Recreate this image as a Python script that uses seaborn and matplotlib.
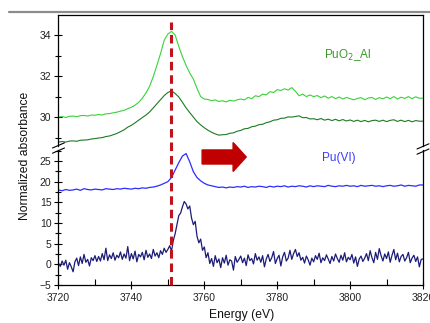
import numpy as np
import pandas as pd
import matplotlib
matplotlib.use("Agg")
import matplotlib.pyplot as plt
from matplotlib.lines import Line2D
from matplotlib.patches import FancyArrow
from matplotlib.ticker import MultipleLocator
import seaborn as sns

# Pu L3-edge XANES: energy grids (eV)
energy_1ev = np.arange(3720, 3821, 1.0)
energy_half = np.arange(3720, 3820.5, 0.5)

# PuO2_Al sample (light green) and reference (dark green), upper panel
puo2_al = [
    30.00, 30.03, 29.98, 30.04, 30.05, 30.02, 30.07, 30.08, 30.05, 30.10,
    30.09, 30.13, 30.10, 30.16, 30.17, 30.21, 30.24, 30.29, 30.33, 30.41,
    30.48, 30.58, 30.72, 30.92, 31.18, 31.50, 31.98, 32.52, 33.10, 33.75,
    34.05, 34.18, 34.00, 33.45, 32.95, 32.52, 32.15, 31.85, 31.40, 31.00,
    30.88, 30.86, 30.80, 30.84, 30.76, 30.80, 30.74, 30.82, 30.78, 30.84,
    30.88, 30.84, 30.96, 30.90, 31.04, 31.00, 31.12, 31.08, 31.24, 31.20,
    31.34, 31.30, 31.38, 31.32, 31.44, 31.26, 31.04, 31.12, 31.00, 31.08,
    31.00, 31.05, 30.95, 31.03, 30.92, 31.00, 30.90, 30.98, 30.88, 30.96,
    30.90, 30.84, 30.91, 30.95, 30.85, 30.93, 30.96, 30.86, 30.95, 30.89,
    30.98, 30.90, 31.00, 30.88, 30.97, 30.91, 31.00, 30.90, 30.99, 30.92,
    30.92,
]
puo2_ref = [
    28.78, 28.81, 28.78, 28.83, 28.84, 28.82, 28.87, 28.88, 28.89, 28.93,
    28.95, 28.98, 29.00, 29.05, 29.08, 29.14, 29.20, 29.29, 29.38, 29.51,
    29.60, 29.72, 29.85, 29.98, 30.10, 30.25, 30.45, 30.65, 30.85, 31.05,
    31.20, 31.28, 31.15, 30.98, 30.72, 30.45, 30.22, 30.00, 29.78, 29.62,
    29.48, 29.36, 29.26, 29.18, 29.12, 29.14, 29.15, 29.21, 29.23, 29.31,
    29.35, 29.43, 29.45, 29.53, 29.56, 29.63, 29.65, 29.73, 29.77, 29.85,
    29.87, 29.94, 29.95, 30.01, 30.00, 30.03, 30.06, 29.97, 29.98, 29.91,
    29.92, 29.87, 29.93, 29.85, 29.90, 29.83, 29.89, 29.82, 29.88, 29.81,
    29.86, 29.79, 29.85, 29.78, 29.84, 29.77, 29.83, 29.85, 29.79, 29.85,
    29.78, 29.84, 29.87, 29.79, 29.85, 29.78, 29.84, 29.77, 29.83, 29.80,
    29.80,
]

# Pu(VI) reference (blue), lower panel
pu_vi = [
    18.0, 17.8, 18.1, 17.9, 18.0, 18.2, 17.9, 18.3, 18.1, 18.0,
    18.2, 18.1, 18.0, 18.3, 18.2, 18.1, 18.3, 18.2, 18.4, 18.3,
    18.2, 18.4, 18.3, 18.5, 18.4, 18.6, 18.7, 18.9, 19.2, 19.6,
    20.0, 21.0, 22.8, 24.6, 26.2, 26.8, 24.8, 22.4, 21.0, 20.2,
    19.6, 19.2, 19.0, 18.8, 18.6, 18.7, 18.5, 18.7, 18.6, 18.8,
    18.7, 18.9, 18.6, 18.8, 18.7, 18.9, 18.8, 18.6, 18.9, 18.7,
    18.9, 18.8, 19.0, 18.7, 18.9, 18.8, 19.0, 18.9, 18.7, 19.0,
    18.8, 19.0, 18.9, 18.8, 19.1, 18.9, 18.8, 19.0, 18.9, 19.1,
    18.9, 19.0, 18.8, 19.1, 18.9, 19.0, 19.1, 18.9, 19.0, 18.8,
    19.0, 19.1, 18.9, 19.0, 19.2, 18.9, 19.1, 19.0, 18.9, 19.2,
    19.2,
]

# Difference spectrum (navy), 0.5 eV steps, lower panel
difference = [
    0.3, -0.5, 0.8, -0.2, 1.0, -1.2, 0.4, -0.6, -1.8, 0.6,
    1.5, -0.3, 1.8, 0.2, 2.4, 0.5, 1.2, -0.4, 1.6, 0.9,
    2.1, 0.7, 1.9, 0.8, 2.6, 1.1, 3.9, 0.9, 2.3, 1.4,
    2.8, 1.0, 2.2, 1.6, 3.0, 1.2, 2.5, 1.5, 4.3, 0.9,
    2.6, 1.3, 3.2, 0.6, 2.4, 1.8, 2.9, 1.1, 3.4, 1.7,
    2.5, 1.4, 3.6, 2.0, 2.8, 1.6, 3.3, 2.4, 3.9, 2.9,
    3.6, 4.5, 3.2, 5.8, 7.4, 9.6, 11.8, 12.4, 13.9, 15.2,
    14.6, 13.4, 14.1, 11.2, 9.6, 10.4, 6.8, 5.2, 6.1, 3.4,
    4.2, 1.6, 2.8, 0.2, 1.4, -0.5, 2.1, 0.4, 1.3, -0.8,
    1.6, 0.3, 2.2, -0.2, 1.1, 0.8, -1.4, 1.9, 0.5, 1.2,
    2.0, 0.4, 1.5, -0.3, 2.3, 0.9, 1.4, 0.1, 2.6, 1.0,
    1.8, 0.5, 2.1, -0.6, 1.3, 2.4, 0.7, 1.6, 3.1, 0.2,
    1.4, 2.2, -0.4, 1.8, 2.9, 0.8, 1.5, 3.4, 1.2, 2.6,
    3.6, 1.9, 2.8, 1.0, 1.7, 0.3, 2.0, 1.1, -0.2, 1.5,
    0.6, 2.1, 1.2, 2.7, 0.4, 1.6, 0.9, 2.3, 1.3, 0.2,
    1.9, 0.8, 2.5, 1.4, 0.5, 2.2, 1.0, 2.8, 0.6, 1.7,
    1.1, 2.4, 0.3, 1.8, -0.5, 1.3, 2.0, 0.7, 1.5, 2.6,
    0.9, 3.3, 1.6, 0.4, 2.9, 1.2, 3.8, 2.1, 0.8, 2.5,
    1.4, 3.0, 0.5, 2.2, 3.6, 1.1, 2.7, 0.6, 1.9, 2.4,
    0.8, 1.6, 2.9, 0.4, 1.5, 2.2, 0.7, 1.8, -0.6, 1.2,
    1.3,
]

edge_energy = 3751.0
x_ticks = [3720, 3740, 3760, 3780, 3800, 3820]
top_ticks = [30, 32, 34]
bottom_ticks = [-5, 0, 5, 10, 15, 20, 25]

sns.set_theme(style="ticks")
plt.rcParams["font.family"] = ["Liberation Sans", "DejaVu Sans"]
plt.rcParams["axes.linewidth"] = 0.9

W, H = 431, 323
fig = plt.figure(figsize=(W / 100, H / 100), dpi=100)
fig.patch.set_facecolor("white")

left, right = 58.5 / W, 423 / W
ax_top = fig.add_axes([left, 1 - 146 / H, right - left, (146 - 15) / H])
ax_bot = fig.add_axes([left, 1 - 285 / H, right - left, (285 - 150) / H])

top_df = pd.DataFrame({"E": energy_1ev, "sample": puo2_al, "ref": puo2_ref, "vi": pu_vi})
diff_df = pd.DataFrame({"E": energy_half, "diff": difference})

sns.lineplot(data=top_df, x="E", y="sample", ax=ax_top, color="#3ad23a", linewidth=0.8)
sns.lineplot(data=top_df, x="E", y="ref", ax=ax_top, color="#1d7a22", linewidth=0.8)
sns.lineplot(data=top_df, x="E", y="vi", ax=ax_bot, color="#2c2cff", linewidth=0.9)
sns.lineplot(data=diff_df, x="E", y="diff", ax=ax_bot, color="#1c1c78", linewidth=0.9)

ax_top.set_xlim(3720, 3820)
ax_bot.set_xlim(3720, 3820)
ax_top.set_ylim(28.59, 34.98)
ax_bot.set_ylim(-5, 27.66)

for ax in (ax_top, ax_bot):
    ax.set_xlabel("")
    ax.set_ylabel("")
    for s in ax.spines.values():
        s.set_color("black")
        s.set_linewidth(0.9)
    ax.tick_params(axis="both", which="major", direction="inout", length=6,
                   width=0.8, colors="black", labelsize=7.5, labelcolor="#222222", pad=2)
    ax.tick_params(axis="both", which="minor", direction="inout", length=4,
                   width=0.8, colors="black")

ax_top.spines["bottom"].set_visible(False)
ax_top.tick_params(axis="x", which="both", bottom=False, labelbottom=False)
ax_top.set_yticks(top_ticks)
ax_top.yaxis.set_minor_locator(MultipleLocator(1))

ax_bot.spines["top"].set_visible(False)
ax_bot.set_yticks(bottom_ticks)
ax_bot.yaxis.set_minor_locator(MultipleLocator(2.5))
ax_bot.set_xticks(x_ticks)
ax_bot.xaxis.set_minor_locator(MultipleLocator(10))
ax_bot.tick_params(axis="x", which="minor", direction="in", length=4)
ax_bot.tick_params(axis="x", which="major", pad=3)

# edge position marker spanning both panels
ax_bot.plot([edge_energy, edge_energy], [-5, 58.6], color="#c0141c", linewidth=2.2,
            linestyle=(0, (2.8, 1.6)), clip_on=False, zorder=5)

# shift arrow
ax_bot.add_patch(FancyArrow(3759.4, 25.97, 12.1, 0, width=3.4, head_width=7.0,
                            head_length=3.6, length_includes_head=True,
                            color="#c00000", clip_on=False, zorder=6))

ax_top.text(3799.4, 33.03, "PuO$_2$_Al", color="#3a9a2a", fontsize=8.5,
            ha="center", va="center")
ax_bot.text(3797, 25.7, "Pu(VI)", color="#3a3aff", fontsize=8.5,
            ha="center", va="center")

fig.text(242 / W, 1 - 315 / H, "Energy (eV)", ha="center", va="center",
         fontsize=8.7, color="#111111")
fig.text(25 / W, 1 - 156 / H, "Normalized absorbance", ha="center", va="center",
         rotation=90, fontsize=8.7, color="#111111")

# header rule
fig.add_artist(Line2D([9 / W, 1.0], [1 - 12.3 / H] * 2, color="#8c8c8c", linewidth=1.6))

# axis break marks
def break_mark(xc, yc):
    for dy in (-2.6, 2.6):
        y = yc + dy
        fig.add_artist(Line2D([(xc - 6) / W, (xc + 6) / W],
                              [1 - (y + 2.6) / H, 1 - (y - 2.6) / H],
                              color="black", linewidth=0.8))

break_mark(58.5, 148)
break_mark(423, 149)

fig.savefig("out.png", dpi=100, facecolor="white")
